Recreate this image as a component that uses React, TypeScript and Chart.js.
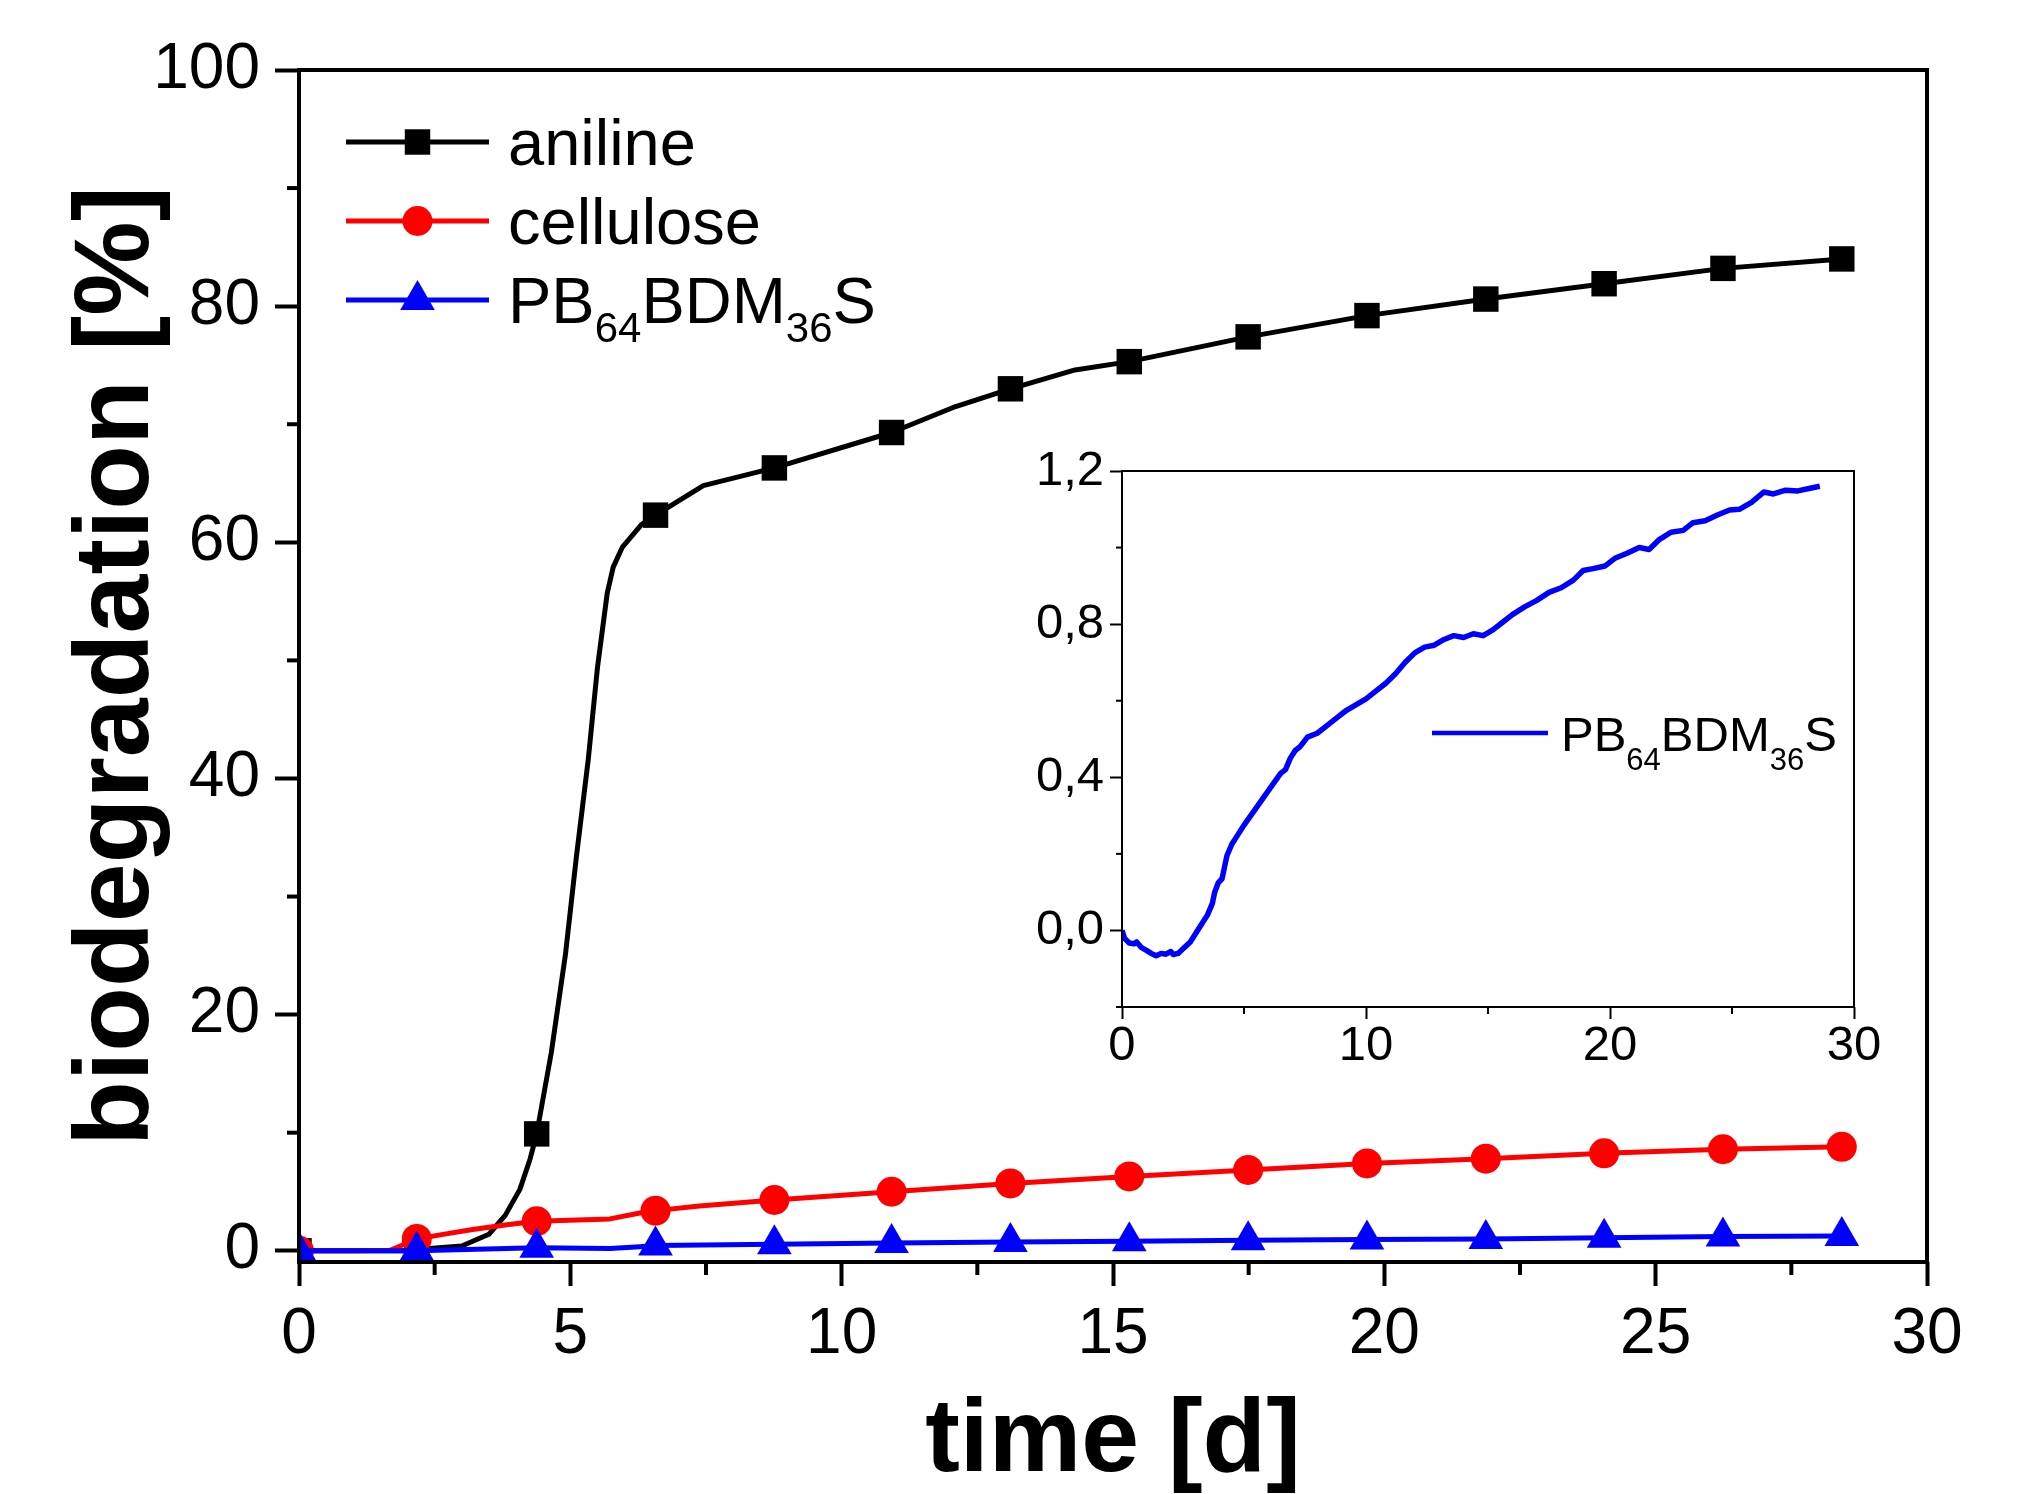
import React, { useEffect, useRef } from 'react';
import { Chart, registerables } from 'chart.js';

Chart.register(...registerables);

const W = 2023;
const H = 1494;
const FONT = "'Liberation Sans', Arial, Helvetica, sans-serif";

// ---------- data ----------
const MARKER_T = [0, 2.17, 4.38, 6.57, 8.76, 10.92, 13.11, 15.3, 17.49, 19.68, 21.87, 24.05, 26.24, 28.43];

const ANILINE_T = [0, 1.0, 2.17, 2.4, 3.0, 3.5, 3.8, 4.07, 4.26, 4.38, 4.65, 4.91, 5.11, 5.33, 5.5, 5.68, 5.79, 5.96, 6.31, 6.57, 7.45, 8.76, 10.92, 12.1, 13.11, 14.3, 15.3, 17.49, 19.68, 21.87, 24.05, 26.24, 28.43];
const ANILINE_V = [0, 0, 0, 0.2, 0.4, 1.4, 3.0, 5.2, 7.8, 9.9, 16.8, 25.1, 33.3, 41.6, 49.4, 55.7, 57.9, 59.6, 61.5, 62.3, 64.8, 66.3, 69.3, 71.5, 73.0, 74.6, 75.3, 77.4, 79.2, 80.6, 81.9, 83.2, 84.0];

const CELL_T = [0, 1.0, 1.68, 2.17, 2.6, 3.2, 3.83, 4.38, 5.73, 6.28, 6.57, 7.38, 8.76, 10.92, 13.11, 15.3, 17.49, 19.68, 21.87, 24.05, 26.24, 28.43];
const CELL_V = [0, 0, 0.05, 1.0, 1.35, 1.8, 2.2, 2.5, 2.7, 3.2, 3.4, 3.8, 4.3, 5.0, 5.7, 6.3, 6.85, 7.4, 7.8, 8.25, 8.6, 8.8];

const PB_T = [0, 2.17, 4.38, 5.73, 6.28, 6.57, 8.76, 10.92, 13.11, 15.3, 17.49, 19.68, 21.87, 24.05, 26.24, 28.43];
const PB_V = [0, 0, 0.25, 0.2, 0.35, 0.45, 0.55, 0.65, 0.75, 0.8, 0.9, 0.95, 1.0, 1.1, 1.2, 1.25];

const INSET_T = [0.0, 0.1, 0.3, 0.5, 0.6, 0.8, 1.0, 1.2, 1.4, 1.6, 1.8, 2.0, 2.1, 2.3, 2.5, 2.8, 3.0, 3.2, 3.5, 3.7, 3.8, 3.95, 4.1, 4.2, 4.3, 4.5, 4.7, 5.0, 5.5, 6.0, 6.5, 6.7, 6.9, 7.1, 7.3, 7.6, 8.0, 8.4, 8.8, 9.2, 9.6, 10.0, 10.4, 10.8, 11.2, 11.6, 12.0, 12.4, 12.8, 13.2, 13.6, 14.0, 14.4, 14.8, 15.2, 15.6, 16.0, 16.5, 17.0, 17.5, 18.0, 18.5, 18.9, 19.3, 19.8, 20.2, 20.7, 21.2, 21.6, 22.0, 22.5, 23.0, 23.4, 23.9, 24.4, 24.9, 25.3, 25.8, 26.3, 26.7, 27.2, 27.7, 28.2, 28.6];
const INSET_V = [0.0, -0.02, -0.033, -0.035, -0.03, -0.045, -0.052, -0.06, -0.066, -0.06, -0.062, -0.055, -0.063, -0.06, -0.048, -0.03, -0.01, 0.01, 0.04, 0.07, 0.1, 0.125, 0.135, 0.165, 0.195, 0.225, 0.245, 0.275, 0.32, 0.365, 0.41, 0.42, 0.45, 0.47, 0.48, 0.505, 0.515, 0.535, 0.555, 0.575, 0.59, 0.605, 0.625, 0.645, 0.67, 0.7, 0.725, 0.74, 0.745, 0.76, 0.77, 0.765, 0.775, 0.77, 0.785, 0.805, 0.825, 0.845, 0.862, 0.883, 0.895, 0.915, 0.94, 0.945, 0.952, 0.972, 0.985, 1.0, 0.995, 1.02, 1.04, 1.045, 1.065, 1.07, 1.085, 1.098, 1.1, 1.118, 1.145, 1.14, 1.15, 1.148, 1.155, 1.16];

const LABELS = ['aniline', 'cellulose', 'PB{64}BDM{36}S'];
const INSET_LABEL = 'PB{64}BDM{36}S';

const MAIN_Y_TICKS_MINOR = [10, 30, 50, 70, 90];
const MAIN_X_TICKS_MINOR = [2.5, 7.5, 12.5, 17.5, 22.5, 27.5];
const INSET_Y_TICKS_MINOR = [-0.2, 0.2, 0.6, 1.0];
const INSET_X_TICKS_MINOR = [5, 15, 25];

// ---------- helpers ----------
const pts = (t: number[], v: number[]) => t.map((x, i) => ({ x, y: v[i] }));
const plain = (s: string) => s.replace(/[{}]/g, '');
const isMarker = (x: number) => MARKER_T.some((m) => Math.abs(m - x) < 1e-9);

function parseRich(label: string) {
  const parts: { text: string; sub: boolean }[] = [];
  const re = /([^{]+)|\{([^}]*)\}/g;
  let m: RegExpExecArray | null;
  while ((m = re.exec(label))) {
    if (m[1]) parts.push({ text: m[1], sub: false });
    else parts.push({ text: m[2], sub: true });
  }
  return parts;
}

function drawRich(ctx: CanvasRenderingContext2D, label: string, x: number, baseline: number, size: number, subSize: number, drop: number) {
  let cx = x;
  ctx.textAlign = 'left';
  ctx.textBaseline = 'alphabetic';
  ctx.fillStyle = '#000';
  for (const p of parseRich(label)) {
    ctx.font = `${p.sub ? subSize : size}px ${FONT}`;
    ctx.fillText(p.text, cx, p.sub ? baseline + drop : baseline);
    cx += ctx.measureText(p.text).width;
  }
}

function drawMarker(ctx: CanvasRenderingContext2D, style: string, x: number, y: number, r: number, color: string) {
  ctx.fillStyle = color;
  ctx.beginPath();
  if (style === 'rect') {
    const s = Math.SQRT1_2 * r;
    ctx.rect(x - s, y - s, 2 * s, 2 * s);
  } else if (style === 'circle') {
    ctx.arc(x, y, r, 0, Math.PI * 2);
  } else if (style === 'triangle') {
    ctx.moveTo(x, y - r);
    ctx.lineTo(x + r * Math.sin((2 * Math.PI) / 3), y - r * Math.cos((2 * Math.PI) / 3));
    ctx.lineTo(x + r * Math.sin((4 * Math.PI) / 3), y - r * Math.cos((4 * Math.PI) / 3));
    ctx.closePath();
  }
  ctx.fill();
}

function decorPlugin(id: string, cfg: any) {
  return {
    id,
    afterDraw(chart: any) {
      const { ctx, chartArea } = chart;
      const xs = chart.scales.x;
      const ys = chart.scales.y;
      ctx.save();
      ctx.strokeStyle = '#000';
      ctx.lineWidth = cfg.frameWidth;
      ctx.lineCap = 'butt';
      // minor ticks
      for (const v of cfg.yMinor) {
        const py = ys.getPixelForValue(v);
        ctx.beginPath();
        ctx.moveTo(chartArea.left - cfg.yMinorLen, py);
        ctx.lineTo(chartArea.left, py);
        ctx.stroke();
      }
      for (const v of cfg.xMinor) {
        const px = xs.getPixelForValue(v);
        ctx.beginPath();
        ctx.moveTo(px, chartArea.bottom);
        ctx.lineTo(px, chartArea.bottom + cfg.xMinorLen);
        ctx.stroke();
      }
      // frame
      ctx.strokeRect(chartArea.left, chartArea.top, chartArea.right - chartArea.left, chartArea.bottom - chartArea.top);
      // legend
      const lg = cfg.legend;
      lg.items.forEach((it: any, i: number) => {
        const y = chartArea.top + lg.top + i * lg.rowGap;
        const x1 = chartArea.left + lg.left;
        const x2 = x1 + lg.lineLen;
        ctx.strokeStyle = it.color;
        ctx.lineWidth = it.lineWidth;
        ctx.beginPath();
        ctx.moveTo(x1, y);
        ctx.lineTo(x2, y);
        ctx.stroke();
        if (it.pointStyle) drawMarker(ctx, it.pointStyle, (x1 + x2) / 2, y, it.radius, it.color);
        drawRich(ctx, it.label, x2 + lg.textGap, y + lg.size * 0.36, lg.size, lg.subSize, lg.drop);
      });
      ctx.restore();
    },
  };
}

function fixedWidth(w: number) {
  return (scale: any) => {
    scale.width = w;
  };
}
function fixedHeight(h: number) {
  return (scale: any) => {
    scale.height = h;
  };
}

const SERIES = [
  { t: ANILINE_T, v: ANILINE_V, color: '#000000', style: 'rect', radius: 18, lw: 5, order: 2 },
  { t: CELL_T, v: CELL_V, color: '#ff0000', style: 'circle', radius: 15, lw: 5, order: 1 },
  { t: PB_T, v: PB_V, color: '#0000ff', style: 'triangle', radius: 20, lw: 5, order: 0 },
];

function mainConfig(): any {
  return {
    type: 'line',
    data: {
      datasets: SERIES.map((s, i) => ({
        label: plain(LABELS[i]),
        data: pts(s.t, s.v),
        borderColor: s.color,
        backgroundColor: s.color,
        borderWidth: s.lw,
        borderJoinStyle: 'round',
        tension: 0,
        order: s.order,
        pointStyle: s.style,
        pointRadius: (c: any) => (c.raw && isMarker(c.raw.x) ? s.radius : 0),
        pointHoverRadius: (c: any) => (c.raw && isMarker(c.raw.x) ? s.radius : 0),
        pointBackgroundColor: s.color,
        pointBorderWidth: 0,
      })),
    },
    options: {
      responsive: false,
      animation: false,
      devicePixelRatio: 1,
      events: [],
      layout: { padding: { left: 0, top: 70, right: 96, bottom: 0 } },
      plugins: { legend: { display: false }, tooltip: { enabled: false } },
      scales: {
        x: {
          type: 'linear',
          min: 0,
          max: 30,
          afterFit: fixedHeight(232),
          border: { display: false },
          grid: { display: true, drawOnChartArea: false, drawTicks: true, tickLength: 24, tickWidth: 4, tickColor: '#000' },
          ticks: { stepSize: 5, autoSkip: false, maxRotation: 0, padding: 17, color: '#000', font: { family: FONT, size: 64, lineHeight: 1 } },
          title: { display: true, text: 'time [d]', color: '#000', padding: { top: 0, bottom: 0 }, font: { family: FONT, size: 104, weight: 'bold', lineHeight: 1 } },
        },
        y: {
          type: 'linear',
          min: -0.95,
          max: 100,
          afterFit: fixedWidth(299),
          border: { display: false },
          grid: { display: true, drawOnChartArea: false, drawTicks: true, tickLength: 24, tickWidth: 4, tickColor: '#000' },
          ticks: { stepSize: 20, includeBounds: false, autoSkip: false, padding: 15, color: '#000', font: { family: FONT, size: 64, lineHeight: 1 }, callback: (v: any) => String(v) },
          title: { display: true, text: 'biodegradation [%]', color: '#000', padding: { top: 66, bottom: 0 }, font: { family: FONT, size: 106, weight: 'bold', lineHeight: 1 } },
        },
      },
    },
    plugins: [
      decorPlugin('mainDecor', {
        frameWidth: 4,
        yMinor: MAIN_Y_TICKS_MINOR,
        xMinor: MAIN_X_TICKS_MINOR,
        yMinorLen: 12,
        xMinorLen: 13,
        legend: {
          left: 47,
          top: 72,
          rowGap: 79,
          lineLen: 143,
          textGap: 19,
          size: 65,
          subSize: 42,
          drop: 19,
          items: SERIES.map((s, i) => ({ label: LABELS[i], color: s.color, lineWidth: 5, pointStyle: s.style, radius: s.radius })),
        },
      }),
    ],
  };
}

function insetConfig(): any {
  return {
    type: 'line',
    data: {
      datasets: [
        {
          label: plain(INSET_LABEL),
          data: pts(INSET_T, INSET_V),
          borderColor: '#0000ff',
          backgroundColor: '#0000ff',
          borderWidth: 5.5,
          borderJoinStyle: 'round',
          tension: 0,
          pointRadius: 0,
          pointHoverRadius: 0,
        },
      ],
    },
    options: {
      responsive: false,
      animation: false,
      devicePixelRatio: 1,
      events: [],
      layout: { padding: { left: 1000, top: 471, right: 169, bottom: 0 } },
      plugins: { legend: { display: false }, tooltip: { enabled: false } },
      scales: {
        x: {
          type: 'linear',
          min: 0,
          max: 30,
          afterFit: fixedHeight(487),
          border: { display: false },
          grid: { display: true, drawOnChartArea: false, drawTicks: true, tickLength: 12, tickWidth: 2, tickColor: '#000' },
          ticks: { stepSize: 10, autoSkip: false, maxRotation: 0, padding: 3, color: '#000', font: { family: FONT, size: 49, lineHeight: 1 } },
        },
        y: {
          type: 'linear',
          min: -0.2,
          max: 1.2,
          afterFit: fixedWidth(122),
          border: { display: false },
          grid: { display: true, drawOnChartArea: false, drawTicks: true, tickLength: 12, tickWidth: 2, tickColor: '#000' },
          ticks: {
            stepSize: 0.4,
            includeBounds: false,
            autoSkip: false,
            padding: 6,
            color: '#000',
            font: { family: FONT, size: 49, lineHeight: 1 },
            callback: (v: any) => Number(v).toFixed(1).replace('.', ','),
          },
        },
      },
    },
    plugins: [
      decorPlugin('insetDecor', {
        frameWidth: 2,
        yMinor: INSET_Y_TICKS_MINOR,
        xMinor: INSET_X_TICKS_MINOR,
        yMinorLen: 6,
        xMinorLen: 7,
        legend: {
          left: 310,
          top: 262,
          rowGap: 0,
          lineLen: 116,
          textGap: 13,
          size: 49,
          subSize: 31,
          drop: 19,
          items: [{ label: INSET_LABEL, color: '#0000ff', lineWidth: 4.5, pointStyle: null, radius: 0 }],
        },
      }),
    ],
  };
}

export default function App() {
  const mainRef = useRef<HTMLCanvasElement>(null);
  const insetRef = useRef<HTMLCanvasElement>(null);

  useEffect(() => {
    const main = new Chart(mainRef.current as HTMLCanvasElement, mainConfig());
    const inset = new Chart(insetRef.current as HTMLCanvasElement, insetConfig());
    return () => {
      main.destroy();
      inset.destroy();
    };
  }, []);

  return (
    <div style={{ position: 'absolute', left: 0, top: 0, width: W, height: H, background: '#ffffff', overflow: 'hidden' }}>
      <canvas ref={mainRef} width={W} height={H} style={{ position: 'absolute', left: 0, top: 0, width: W, height: H }} />
      <canvas ref={insetRef} width={W} height={H} style={{ position: 'absolute', left: 0, top: 0, width: W, height: H }} />
    </div>
  );
}
